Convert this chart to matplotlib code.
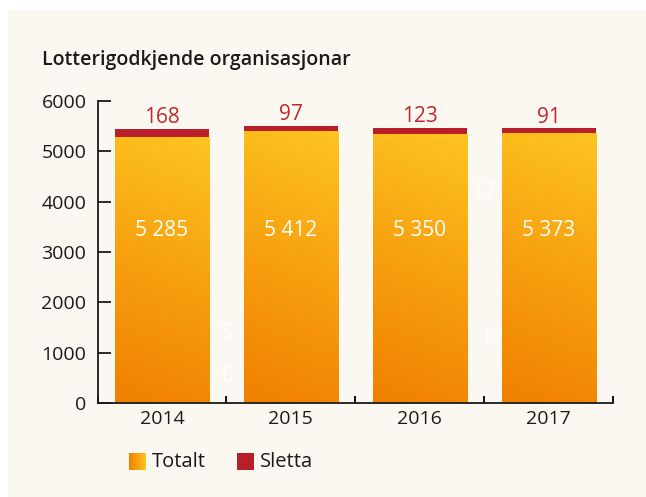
import matplotlib.pyplot as plt
import numpy as np
from matplotlib.colors import LinearSegmentedColormap
from matplotlib.patches import Rectangle

# data
years = ['2014', '2015', '2016', '2017']
totalt = [5285, 5412, 5350, 5373]
sletta = [168, 97, 123, 91]
totalt_labels = ['5 285', '5 412', '5 350', '5 373']

plt.rcParams['font.family'] = ['Open Sans', 'DejaVu Sans']

W, H = 646, 497
fig = plt.figure(figsize=(W / 100, H / 100), dpi=100, facecolor='white')

# cream panel behind everything
fig.patches.append(Rectangle((8 / W, 0), 1, (H - 10) / H, transform=fig.transFigure,
                             facecolor='#fbf8f1', edgecolor='none', zorder=-10))

ax = fig.add_axes([97.5 / W, 1 - 403 / H, (613 - 97.5) / W, (403 - 101) / H])
ax.set_facecolor('none')

orange = LinearSegmentedColormap.from_list('og', ['#f08000', '#f7a010', '#fdc520'])
red = '#b81f2b'
width = 0.73
x = np.arange(len(years))

bars = ax.bar(x, totalt, width, color='none', edgecolor='none', zorder=2)
ax.bar(x, sletta, width, bottom=totalt, color=red, edgecolor='none', zorder=3)

# gradient fill, slightly diagonal (darker lower left)
gy, gx = np.mgrid[0:1:200j, 0:1:50j]
grad = np.clip(gy * 0.88 + gx * 0.12, 0, 1)
for b in bars:
    x0, w, h = b.get_x(), b.get_width(), b.get_height()
    im = ax.imshow(grad, cmap=orange, origin='lower', aspect='auto',
                   extent=[x0, x0 + w, 0, h], zorder=2)
    im.set_clip_path(b)

for i in range(len(years)):
    ax.text(x[i], 3420, totalt_labels[i], ha='center', va='center',
            color='white', fontsize=15, zorder=4)
    ax.text(x[i], totalt[i] + sletta[i] + 215, str(sletta[i]), ha='center', va='center',
            color='#c1272d', fontsize=15, zorder=4)

# faint leftover numbers in the gaps
for tx, ty, s in [(0.50, 1390, '5'), (0.51, 520, '6'), (2.49, 4190, '17'), (2.56, 1290, '17')]:
    ax.text(tx, ty, s, color='white', fontsize=15, ha='center', va='center', zorder=1)

ax.set_xlim(-0.5, 3.5)
ax.set_ylim(0, 6000)
ax.set_yticks(range(0, 6001, 1000))
ax.set_xticks(x)
ax.set_xticklabels(years)
ax.set_xticks(np.arange(-0.5, 3.6, 1), minor=True)
ax.tick_params(axis='y', direction='in', length=9, width=1.3, labelsize=14, pad=8, colors='#1a1a1a')
ax.tick_params(axis='x', which='major', length=0, labelsize=14, pad=5, colors='#1a1a1a')
ax.tick_params(axis='x', which='minor', direction='in', length=5, width=1.3)
for s in ['top', 'right']:
    ax.spines[s].set_visible(False)
for s in ['left', 'bottom']:
    ax.spines[s].set_linewidth(1.3)
    ax.spines[s].set_color('#1a1a1a')

fig.text(42 / W, 1 - 60 / H, 'Lotterigodkjende organisasjonar', fontsize=14,
         fontweight='semibold', color='#1a1a1a', va='center', ha='left')

# legend drawn by hand
lax = fig.add_axes([129 / W, 1 - 470 / H, 17 / W, 17 / H])
lax.imshow(np.linspace(0, 1, 50)[None, :], cmap=orange, aspect='auto')
lax.axis('off')
fig.patches.append(Rectangle((237 / W, 1 - 470 / H), 17 / W, 17 / H, transform=fig.transFigure,
                             facecolor=red, edgecolor='none'))
fig.text(152 / W, 1 - 462 / H, 'Totalt', fontsize=14.5, va='center', color='#1a1a1a')
fig.text(260 / W, 1 - 462 / H, 'Sletta', fontsize=14.5, va='center', color='#1a1a1a')

fig.savefig('out.png', dpi=100, facecolor='white')
